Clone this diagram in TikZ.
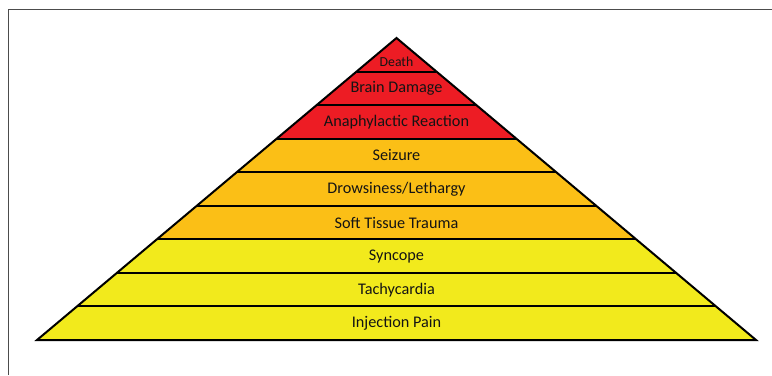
\documentclass[tikz,border=0pt]{standalone}
\usepackage{fontspec}
\setmainfont{Carlito}
\usepackage{xcolor}
\usetikzlibrary{calc}
\definecolor{nivelVermelho}{HTML}{ED1C24}
\definecolor{nivelLaranja}{HTML}{FBBF16}
\definecolor{nivelAmarelo}{HTML}{F2EA1C}
\tikzset{
  rotulo/.style={font=\fontsize{16.3}{19}\selectfont, text=black!92, inner sep=1pt},
  borda/.style={line width=2bp, line join=miter},
  moldura/.style={draw=black!70, line width=1.5bp},
}

\begin{document}
\begin{tikzpicture}[x=1bp, y=-1bp]
  \useasboundingbox (0,0) rectangle (772,375);
  \draw[moldura] (8.5,375) |- (772,9.5);
  \coordinate (topo) at (396.5,38);
  \coordinate (be) at (37,340);
  \coordinate (bd) at (756,340);
  % faixas de cor
  \fill[nivelAmarelo] (be) -- (bd) -- ($(topo)!6/9!(bd)$) -- ($(topo)!6/9!(be)$) -- cycle;
  \fill[nivelLaranja] ($(topo)!6/9!(be)$) -- ($(topo)!6/9!(bd)$) -- ($(topo)!3/9!(bd)$) -- ($(topo)!3/9!(be)$) -- cycle;
  \fill[nivelVermelho] ($(topo)!3/9!(be)$) -- ($(topo)!3/9!(bd)$) -- (topo) -- cycle;
  \foreach \k in {1,...,8}
    \draw[borda] ($(topo)!\k/9!(be)$) -- ($(topo)!\k/9!(bd)$);
  \draw[borda] (topo) -- (be) -- (bd) -- cycle;
  % niveis
  \node[rotulo, font=\fontsize{13.8}{16}\selectfont] (morte) at (396.5,62) {Death};
  \node[rotulo] (cerebro) at (396.5,88.3) {Brain Damage};
  \node[rotulo] (anafilaxia) at (396.5,121.9) {Anaphylactic Reaction};
  \node[rotulo] (convulsao) at (396.5,155.4) {Seizure};
  \node[rotulo] (sonolencia) at (396.5,189) {Drowsiness/Lethargy};
  \node[rotulo] (trauma) at (396.5,222.6) {Soft Tissue Trauma};
  \node[rotulo] (sincope) at (396.5,256.1) {Syncope};
  \node[rotulo] (taquicardia) at (396.5,289.7) {Tachycardia};
  \node[rotulo] (dor) at (396.5,323.2) {Injection Pain};
\end{tikzpicture}
\end{document}
